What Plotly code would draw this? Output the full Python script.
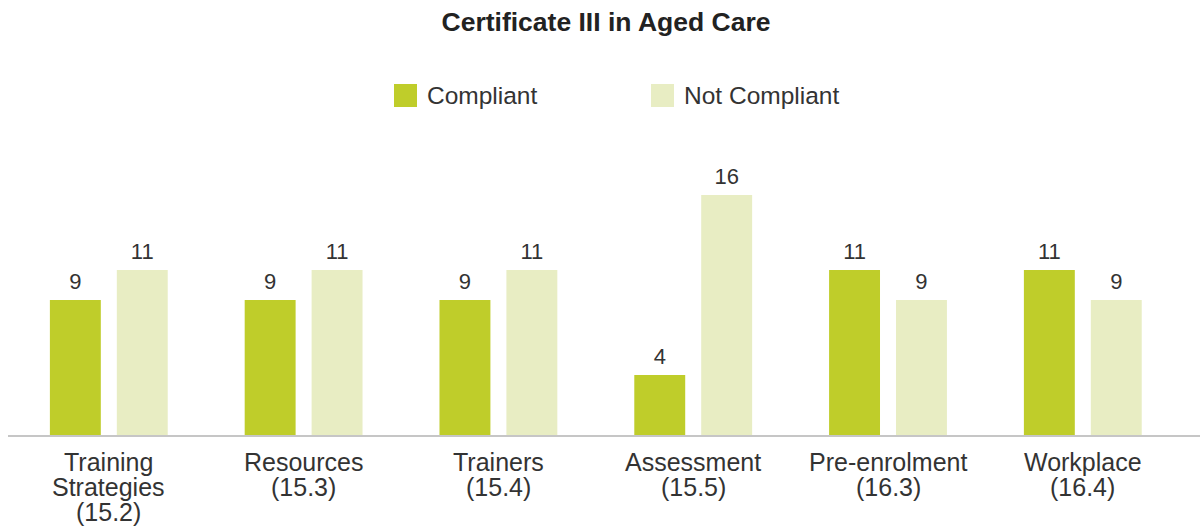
import plotly.graph_objects as go

categories = [
    "Training\nStrategies\n(15.2)",
    "Resources\n(15.3)",
    "Trainers\n(15.4)",
    "Assessment\n(15.5)",
    "Pre-enrolment\n(16.3)",
    "Workplace\n(16.4)",
]
compliant = [9, 9, 9, 4, 11, 11]
not_compliant = [11, 11, 11, 16, 9, 9]
series_names = ["Compliant", "Not Compliant"]
series_colors = ["#bfcd2a", "#e8edc3"]

FONT = "Liberation Sans, Arial, Helvetica, sans-serif"
TEXT_COLOR = "#333333"

W, H = 1200, 526
M_L, M_R, M_T, M_B = 8, 0, 150, 91
plot_w = W - M_L - M_R
plot_h = H - M_T - M_B
BAR_GAP = 0.313


def px_to_paper_x(px):
    return (px - M_L) / plot_w


def px_to_paper_y(py):
    return (H - M_B - py) / plot_h


x_keys = list(range(len(categories)))

fig = go.Figure()
for i, (name, values, color) in enumerate(zip(series_names, [compliant, not_compliant], series_colors)):
    fig.add_trace(
        go.Bar(
            x=x_keys,
            y=values,
            name=name,
            offsetgroup=str(i),
            marker=dict(color=color, line=dict(width=0)),
            showlegend=False,
            hoverinfo="x+y+name",
        )
    )
# value labels: grouped text scatter so they line up with the bars,
# with an invisible marker to lift the text a little off the bar top
for i, (name, values) in enumerate(zip(series_names, [compliant, not_compliant])):
    fig.add_trace(
        go.Scatter(
            x=x_keys,
            y=values,
            mode="markers+text",
            offsetgroup=str(i),
            text=[str(v) for v in values],
            textposition="top center",
            textfont=dict(family=FONT, size=22, color=TEXT_COLOR),
            marker=dict(size=7, opacity=0),
            cliponaxis=False,
            showlegend=False,
            hoverinfo="skip",
        )
    )

# category labels, one annotation per line so the line spacing stays tight
annotations = []
for i, label in enumerate(categories):
    for k, line in enumerate(label.split("\n")):
        annotations.append(
            dict(
                x=i,
                xref="x",
                y=0,
                yref="y",
                text=line,
                showarrow=False,
                yanchor="middle",
                xanchor="center",
                yshift=-(27 + 25 * k),
                font=dict(family=FONT, size=25, color=TEXT_COLOR),
            )
        )

# legend drawn by hand: big square swatches like the reference
shapes = []
legend_left = [394, 651]
for name, color, left in zip(series_names, series_colors, legend_left):
    shapes.append(
        dict(
            type="rect",
            xref="paper",
            yref="paper",
            x0=px_to_paper_x(left),
            x1=px_to_paper_x(left + 23),
            y0=px_to_paper_y(107),
            y1=px_to_paper_y(84),
            fillcolor=color,
            line=dict(width=0),
        )
    )
    annotations.append(
        dict(
            x=px_to_paper_x(left + 31),
            xref="paper",
            y=px_to_paper_y(95),
            yref="paper",
            text=name,
            showarrow=False,
            xanchor="left",
            yanchor="middle",
            font=dict(family=FONT, size=24.5, color=TEXT_COLOR),
        )
    )

fig.update_layout(
    width=W,
    height=H,
    title=dict(
        text="<b>Certificate III in Aged Care</b>",
        x=0.505,
        xanchor="center",
        y=1 - 22 / H,
        yanchor="middle",
        yref="container",
        font=dict(family=FONT, size=26.5, color="#222222"),
    ),
    margin=dict(l=M_L, r=M_R, t=M_T, b=M_B),
    plot_bgcolor="white",
    paper_bgcolor="white",
    barmode="group",
    bargap=BAR_GAP,
    bargroupgap=0.239,
    scattermode="group",
    scattergap=BAR_GAP,
    showlegend=False,
    annotations=annotations,
    shapes=shapes,
)
fig.update_xaxes(
    range=[-0.5175, 5.6016],
    showticklabels=False,
    ticks="",
    showgrid=False,
    zeroline=False,
    showline=True,
    linecolor="#c6c6c6",
    linewidth=2,
    fixedrange=True,
)
fig.update_yaxes(
    range=[0, 19],
    visible=False,
    showgrid=False,
    zeroline=False,
    fixedrange=True,
)

fig.write_html(
    "out.html",
    config={"displayModeBar": False},
    post_script="document.body.style.margin = '0';",
)
